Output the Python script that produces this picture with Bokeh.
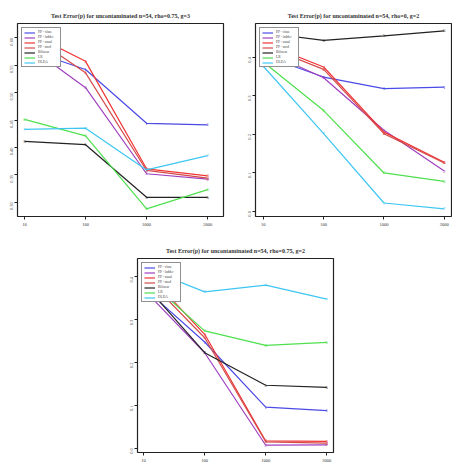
import math
from bokeh.plotting import figure
from bokeh.layouts import column, row
from bokeh.models import FixedTicker, Legend, LegendItem, Spacer, Title
from bokeh.core.properties import value
from bokeh.embed import file_html
from bokeh.resources import INLINE

x_labels = ["10", "100", "1000", "2000"]
series_names = ["PP - class", "PP - ladder", "PP - usual", "PP - mod", "Bilinear", "LR", "DLDA"]
series_colors = ["#4a4ae6", "#a040c0", "#f03434", "#d44a4a", "#222222", "#4ee04e", "#3ec6f2"]
series_marks = ["1", "2", "3", "4", "5", "6", "7"]

# panel 1: rho=0.75, g=3
p1_class = [0.580, 0.542, 0.444, 0.441]
p1_ladder = [0.590, 0.509, 0.352, 0.342]
p1_usual = [0.613, 0.557, 0.361, 0.348]
p1_mod = [0.612, 0.536, 0.358, 0.344]
p1_bil = [0.411, 0.405, 0.309, 0.309]
p1_lr = [0.451, 0.421, 0.288, 0.323]
p1_dlda = [0.433, 0.435, 0.359, 0.385]
p1_ticks = [0.30, 0.35, 0.40, 0.45, 0.50, 0.55, 0.60]

# panel 2: rho=0, g=2
p2_class = [0.404, 0.348, 0.318, 0.322]
p2_ladder = [0.417, 0.346, 0.210, 0.104]
p2_usual = [0.436, 0.374, 0.205, 0.127]
p2_mod = [0.430, 0.368, 0.201, 0.125]
p2_bil = [0.463, 0.443, 0.455, 0.468]
p2_lr = [0.387, 0.261, 0.099, 0.077]
p2_dlda = [0.376, 0.201, 0.021, 0.006]
p2_ticks = [0.0, 0.1, 0.2, 0.3, 0.4]

# panel 3: rho=0.75, g=2
p3_class = [0.375, 0.248, 0.096, 0.088]
p3_ladder = [0.371, 0.223, 0.007, 0.008]
p3_usual = [0.418, 0.266, 0.017, 0.016]
p3_mod = [0.404, 0.258, 0.015, 0.012]
p3_bil = [0.385, 0.223, 0.147, 0.142]
p3_lr = [0.402, 0.274, 0.240, 0.247]
p3_dlda = [0.422, 0.365, 0.381, 0.348]
p3_ticks = [0.0, 0.1, 0.2, 0.3, 0.4]

FONT = "Liberation Serif"


def panel(title, series, ticks, fmt, xr, yr, w, h, bl, br, bt, bb):
    xs = list(range(len(x_labels)))
    p = figure(width=w, height=h, x_range=xr, y_range=yr,
               output_backend="svg", toolbar_location=None,
               min_border_left=bl, min_border_right=br,
               min_border_top=bt, min_border_bottom=bb)
    p.title = Title(text=title, align="center", text_font=FONT,
                    text_font_size="6px", text_font_style="bold",
                    text_color="#333333", standoff=10, offset=0)
    p.grid.visible = False
    p.outline_line_color = "#222222"
    p.outline_line_width = 1.2
    p.background_fill_color = "white"
    p.border_fill_color = "white"

    p.xaxis.ticker = FixedTicker(ticks=xs)
    p.xaxis.major_label_overrides = {i: s for i, s in enumerate(x_labels)}
    p.xaxis.bounds = (xs[0], xs[-1])
    p.yaxis.ticker = FixedTicker(ticks=ticks)
    p.yaxis.major_label_overrides = {t: fmt.format(t) for t in ticks}
    p.yaxis.bounds = (ticks[0], ticks[-1])
    p.yaxis.major_label_orientation = math.pi / 2
    for ax in (p.xaxis, p.yaxis):
        ax.axis_line_color = "#222222"
        ax.major_tick_line_color = "#222222"
        ax.minor_tick_line_color = None
        ax.major_tick_in = 0
        ax.major_tick_out = 3
        ax.major_label_text_font = FONT
        ax.major_label_text_font_size = "4.5px"
        ax.major_label_text_color = "#333333"
        ax.major_label_standoff = 3

    items = []
    for name, col, mk, ys in zip(series_names, series_colors, series_marks, series):
        r = p.line(xs, ys, line_color=col, line_width=1.2)
        p.text(xs, ys, text=[mk] * len(xs), text_color=col,
               text_font=value(FONT), text_font_size="5px",
               text_align="center", text_baseline="middle")
        items.append(LegendItem(label=name, renderers=[r]))
    leg = Legend(items=items, location="top_left",
                 label_text_font=FONT, label_text_font_size="3.5px",
                 label_text_line_height=1.0,
                 label_height=3, glyph_height=3, glyph_width=11,
                 label_standoff=3, spacing=1, padding=2, margin=4,
                 border_line_color="#222222", border_line_width=1,
                 background_fill_alpha=1.0)
    p.add_layout(leg, "center")
    return p


s1 = [p1_class, p1_ladder, p1_usual, p1_mod, p1_bil, p1_lr, p1_dlda]
s2 = [p2_class, p2_ladder, p2_usual, p2_mod, p2_bil, p2_lr, p2_dlda]
s3 = [p3_class, p3_ladder, p3_usual, p3_mod, p3_bil, p3_lr, p3_dlda]

f1 = panel("Test Error(p) for uncontaminated n=54, rho=0.75, g=3", s1, p1_ticks, "{:.2f}",
           (-0.115, 3.26), (0.274, 0.626), 226, 232, 17, 3, 23, 16)
f2 = panel("Test Error(p) for uncontaminated n=54, rho=0, g=2", s2, p2_ticks, "{:.1f}",
           (-0.13, 3.12), (-0.014, 0.487), 226, 232, 29, 1, 23, 16)
f3 = panel("Test Error(p) for uncontaminated n=54, rho=0.75, g=2", s3, p3_ticks, "{:.1f}",
           (-0.10, 3.11), (-0.010, 0.443), 226, 237, 27, 3, 26, 17)

layout = column(row(f1, f2), row(Spacer(width=110, height=237), f3, Spacer(width=116, height=237)))

with open("out.html", "w") as fh:
    fh.write(file_html(layout, INLINE))
